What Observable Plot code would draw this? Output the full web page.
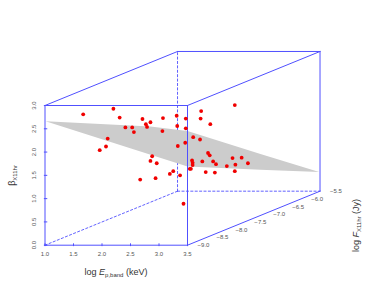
<!DOCTYPE html>
<html><head><meta charset="utf-8">
<style>html,body{margin:0;padding:0;background:#fff}svg{display:block}</style>
<script src="https://cdn.jsdelivr.net/npm/d3@7"></script>
<script src="https://cdn.jsdelivr.net/npm/@observablehq/plot@0.6"></script>
</head><body><div id="c"></div>
<script>
// Oblique 3D view: screen position = (E, beta) plus an offset along depth (log F)
const eTicks = [1.0,1.5,2.0,2.5,3.0,3.5];
const betaTicks = [0.0,0.5,1.0,1.5,2.0,2.5,3.0];
const fTicks = [-9.0,-8.5,-8.0,-7.5,-7.0,-6.5,-6.0,-5.5];
const depthE = 2.325, depthBeta = 1.16; // full-depth shift in axis units
const fMin = -9, fMax = -5.5;
const px = (e,f)=> e + (f-fMin)/(fMax-fMin)*depthE;
const py = (b,f)=> b + (f-fMin)/(fMax-fMin)*depthBeta;

// points as read in the projected plane (axis units)
const ptE = [1.67,2.20,2.31,2.41,2.53,2.56,2.71,2.77,2.79,2.85,3.07,3.06,2.10,2.07,1.96,2.88,2.85,2.96,2.67,2.94,3.19,3.25,3.37,3.31,3.32,3.33,3.47,3.47,3.46,3.54,3.43,4.33,3.74,3.73,3.90,3.60,3.72,3.86,3.89,3.76,3.95,4.00,3.58,3.59,3.59,3.56,3.82,3.98,4.19,4.29,4.34,4.45,4.56,4.33];
const ptB = [2.81,2.93,2.74,2.53,2.53,2.43,2.71,2.60,2.54,2.64,2.73,2.45,2.29,2.12,2.04,1.91,1.81,1.76,1.41,1.44,1.53,1.59,1.50,2.78,2.56,2.13,2.72,2.51,2.20,1.64,0.89,3.01,2.88,2.72,2.60,2.32,2.27,1.98,1.93,1.80,1.80,1.74,1.82,1.77,1.72,1.64,1.57,1.56,1.70,1.87,1.73,1.88,1.76,1.59];

// plane outline in projected axis units
const planeE = [1.01,2.85,3.50,4.78,5.81,4.78,3.50];
const planeB = [2.66,2.55,2.45,1.96,1.57,1.62,1.69];
const plane = planeE.map((e,i)=>({e,b:planeB[i]}));
const points = ptE.map((e,i)=>({e,b:ptB[i]}));

const blue = "#5050ff";
const seg = (a,b)=>[{x:a[0],y:a[1]},{x:b[0],y:b[1]}];
const c = (e,b,f)=>[px(e,f),py(b,f)];
const solid = [
 [c(1,0,fMin),c(3.5,0,fMin)],[c(3.5,0,fMin),c(3.5,3,fMin)],[c(3.5,3,fMin),c(1,3,fMin)],[c(1,3,fMin),c(1,0,fMin)],
 [c(1,3,fMin),c(1,3,fMax)],[c(1,3,fMax),c(3.5,3,fMax)],[c(3.5,3,fMin),c(3.5,3,fMax)],
 [c(3.5,3,fMax),c(3.5,0,fMax)],[c(3.5,0,fMin),c(3.5,0,fMax)]
];
const dashed = [
 [c(1,0,fMin),c(1,0,fMax)],[c(1,0,fMax),c(3.5,0,fMax)],[c(1,0,fMax),c(1,3,fMax)]
];
const lineMarks = (list,opts)=>list.map(s=>Plot.line(seg(s[0],s[1]),{x:"x",y:"y",stroke:blue,strokeWidth:1,...opts}));

const labelFill="#555";
const titleFill="#333";
const chart = Plot.plot({
  width:374,height:307,margin:0,
  style:{fontFamily:"'Liberation Sans',Arial,sans-serif",background:"#fff"},
  x:{domain:[1,3.5],range:[44.5,187],axis:null},
  y:{domain:[0,3],range:[244.7,105],axis:null},
  marks:[
    ...lineMarks(dashed,{strokeDasharray:"2.2,2.2",strokeWidth:0.9}),
    Plot.line(plane,{x:"e",y:"b",stroke:"none",fill:"#cccccc"}),
    ...lineMarks(solid,{}),
    Plot.dot(points,{x:"e",y:"b",r:1.9,fill:"#f00000",stroke:"none"}),
    Plot.link(eTicks,{x1:d=>d,x2:d=>d,y1:()=>-0.02,y2:()=>0.04,stroke:blue}),
    Plot.text(eTicks,{x:d=>d,y:()=>0,dy:9,text:d=>d.toFixed(1),fontSize:6,fill:labelFill}),
    Plot.text(betaTicks,{x:()=>1,y:d=>d,dx:-11,text:d=>d.toFixed(1),fontSize:6,rotate:-90,fill:labelFill}),
    Plot.link(betaTicks,{x1:()=>0.98,x2:()=>1.04,y1:d=>d,y2:d=>d,stroke:blue}),
    Plot.text(fTicks,{x:d=>px(3.5,d),y:d=>py(0,d),dx:16,dy:0,text:d=>"\u2212"+Math.abs(d).toFixed(1),fontSize:6,fill:labelFill}),
    Plot.text(["log E|p,band| (keV)"],{x:()=>2.246,y:()=>0,dy:27,fontSize:9,fill:titleFill}),
    Plot.text(["β|X11hr|"],{x:()=>1,y:()=>1.497,dx:-32.5,fontSize:9,rotate:-90,fill:titleFill}),
    Plot.text(["log F|X11hr| (Jy)"],{x:()=>6.46,y:()=>0.423,fontSize:9,rotate:-90,fill:titleFill})
  ]
});
// italic symbol + subscript as real tspans
d3.select(chart).selectAll("text").each(function(){
  const t=this.textContent; if(!t.includes("|"))return;
  const target=d3.select(this);
  const parts=t.split("|"); target.text(null);
  const prefix=parts[0].startsWith("log ")?"log ":"";
  const sym=parts[0].slice(prefix.length);
  if(prefix)target.append("tspan").text(prefix);
  target.append("tspan").attr("font-style",prefix?"italic":null).text(sym);
  target.append("tspan").attr("font-size",6).attr("dy",1.8).text(parts[1]);
  target.append("tspan").attr("dy",-1.8).text(parts[2]);
});
document.getElementById("c").appendChild(chart);
</script></body></html>
